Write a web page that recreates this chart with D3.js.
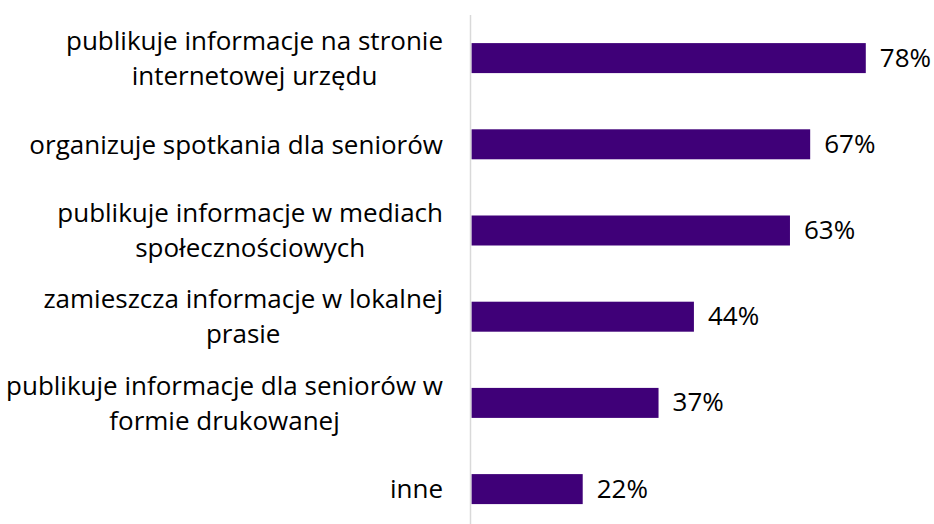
<!DOCTYPE html>
<html>
<head>
<meta charset="utf-8">
<script src="https://cdn.jsdelivr.net/npm/d3@7"></script>
<style>
  html, body { margin: 0; padding: 0; background: #ffffff; }
  svg { display: block; }
</style>
</head>
<body>
<svg id="chart" width="934" height="524"></svg>
<script>
// ---- data ----
const categories = [
  "publikuje informacje na stronie\ninternetowej urzędu",
  "organizuje spotkania dla seniorów",
  "publikuje informacje w mediach\nspołecznościowych",
  "zamieszcza informacje w lokalnej\nprasie",
  "publikuje informacje dla seniorów w\nformie drukowanej",
  "inne"
];
const values = [78, 67, 63, 44, 37, 22];
const valueLabels = ["78%", "67%", "63%", "44%", "37%", "22%"];

// ---- layout ----
const W = 934, H = 524;
const axisX = 470.5;
const barX0 = 471.5;
const plotTop = 15;
const step = 86.2;
const fontFamily = "'Open Sans', sans-serif";
const labelRight = 443;
const lineGap = 35;

const svg = d3.select("#chart");

// fit font size so the widest category line fits the space left of the axis
const probe = svg.append("text").attr("font-family", fontFamily).attr("font-size", 100);
let probeW = 0;
categories.forEach(c => c.split("\n").forEach(ln => {
  probe.text(ln);
  probeW = Math.max(probeW, probe.node().getComputedTextLength());
}));
probe.remove();
const catFont = Math.floor(100 * 438 / probeW * 10) / 10;
const valFont = catFont;

const x = d3.scaleLinear().domain([0, 100]).range([barX0, barX0 + 505.5]);
const y = d3.scaleBand()
  .domain(categories)
  .range([plotTop, plotTop + step * categories.length])
  .paddingInner(0.652)
  .paddingOuter(0.326);

const data = categories.map((c, i) => ({ cat: c, v: values[i], lab: valueLabels[i] }));

// bars
svg.append("g").selectAll("rect")
  .data(data)
  .join("rect")
  .attr("x", d => x(0))
  .attr("y", d => y(d.cat))
  .attr("width", d => x(d.v) - x(0))
  .attr("height", y.bandwidth())
  .attr("fill", "#3f0078");

// axis line
svg.append("line")
  .attr("x1", axisX).attr("x2", axisX)
  .attr("y1", plotTop).attr("y2", H)
  .attr("stroke", "#d9d9d9")
  .attr("stroke-width", 1.5);

// value labels
svg.append("g").selectAll("text")
  .data(data)
  .join("text")
  .attr("x", d => x(d.v) + 14)
  .attr("y", d => y(d.cat) + y.bandwidth() / 2 + 8.5)
  .attr("font-family", fontFamily)
  .attr("font-size", valFont)
  .attr("fill", "#000")
  .text(d => d.lab);

// category labels
const catG = svg.append("g");
data.forEach(d => {
  const lines = d.cat.split("\n");
  const cy = y(d.cat) + y.bandwidth() / 2;
  const t = catG.append("text")
    .attr("font-family", fontFamily)
    .attr("font-size", catFont)
    .attr("fill", "#000")
    .attr("text-anchor", "middle");
  const spans = lines.map((ln, i) => t.append("tspan")
    .attr("y", cy + 9.2 + (i - (lines.length - 1) / 2) * lineGap)
    .text(ln));
  const wMax = d3.max(spans, s => s.node().getComputedTextLength());
  const cx = labelRight - wMax / 2;
  spans.forEach(s => s.attr("x", cx));
});
</script>
</body>
</html>
